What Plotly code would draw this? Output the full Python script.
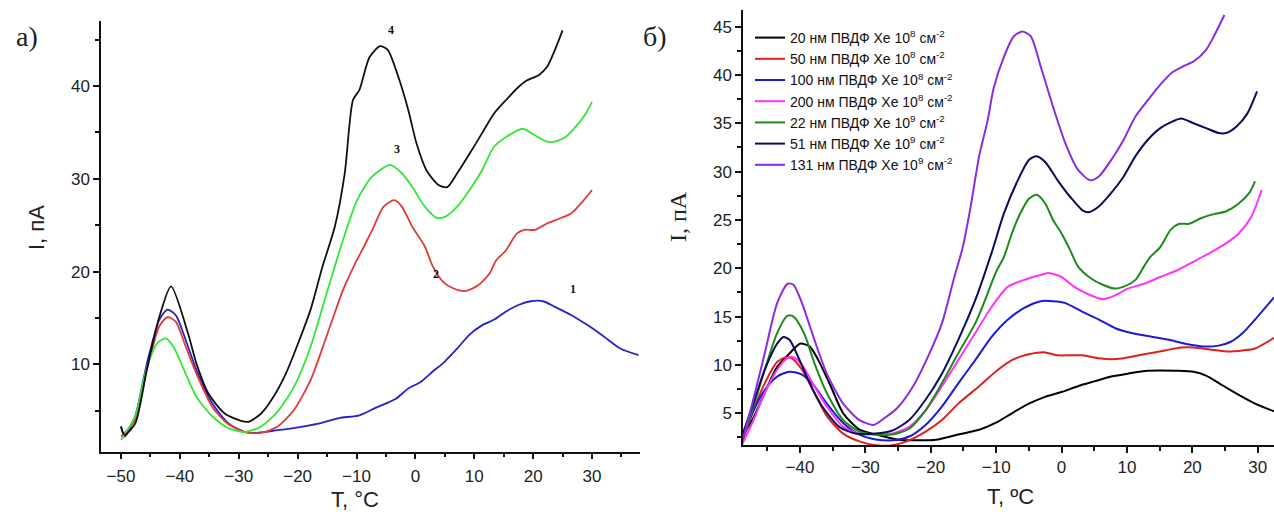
import plotly.graph_objects as go

# ---------------- Panel a) ----------------
a_labels = ["1", "2", "3", "4"]
a_colors = ["#2323c8", "#e03a3a", "#33e633", "#111111"]

a1_T = [-50, -49.4, -47.6, -45.6, -43.5, -42.1, -40.7, -39.0, -37.2, -34.5, -31.7, -28.9, -27.5, -23.4, -19.9, -16.5, -13.0, -9.5, -6.8, -3.3, -1.2, 0.9, 2.9, 5.0, 7.1, 9.2, 11.3, 13.3, 15.4, 17.5, 19.6, 21.7, 23.7, 26.5, 29.3, 32.0, 34.8, 37.9]
a1_I = [3.3, 2.2, 4.4, 10.1, 14.8, 15.9, 15.3, 12.6, 9.4, 5.8, 3.6, 2.7, 2.6, 2.9, 3.2, 3.6, 4.2, 4.5, 5.3, 6.3, 7.4, 8.1, 9.2, 10.3, 11.7, 13.2, 14.2, 14.8, 15.7, 16.4, 16.8, 16.8, 16.2, 15.3, 14.2, 13.0, 11.7, 11.0]

a2_T = [-50, -47.6, -45.6, -43.5, -42.1, -40.7, -39.0, -37.2, -34.5, -31.7, -28.9, -26.2, -23.4, -20.6, -17.8, -15.1, -12.3, -10.2, -8.5, -7.1, -5.4, -3.6, -2.3, -0.5, 1.6, 3.0, 4.7, 6.4, 8.5, 10.6, 12.6, 13.7, 15.4, 17.2, 18.5, 20.3, 22.4, 24.4, 26.5, 28.6, 30.0]
a2_I = [2.2, 4.0, 9.4, 14.1, 15.1, 14.6, 11.9, 9.0, 5.4, 3.5, 2.7, 2.6, 3.3, 5.1, 8.3, 13.0, 18.0, 20.9, 23.0, 24.8, 27.0, 27.7, 27.0, 24.8, 22.7, 20.5, 18.9, 18.2, 17.9, 18.5, 19.8, 21.2, 22.3, 24.1, 24.5, 24.5, 25.2, 25.7, 26.3, 27.7, 28.8]

a3_T = [-50, -47.6, -45.6, -43.8, -42.4, -41.1, -39.3, -37.2, -34.5, -31.7, -28.9, -26.2, -23.4, -20.6, -17.8, -15.1, -12.3, -9.9, -7.4, -4.3, -2.3, -0.5, 1.6, 3.6, 5.0, 7.1, 9.2, 11.3, 13.3, 15.4, 18.2, 20.3, 22.4, 23.7, 25.5, 27.2, 28.9, 30.0]
a3_I = [1.85, 4.4, 9.7, 12.3, 12.8, 11.9, 9.4, 6.5, 4.4, 3.1, 2.7, 3.3, 4.9, 7.6, 11.9, 17.6, 23.4, 27.7, 30.2, 31.5, 30.6, 29.1, 27.0, 25.8, 25.9, 27.0, 28.8, 30.9, 33.4, 34.5, 35.4, 34.7, 34.0, 34.0, 34.5, 35.6, 37.0, 38.3]

a4_T = [-50, -49.4, -47.6, -45.6, -43.5, -41.5, -38.6, -37.2, -35.2, -32.4, -29.6, -28.4, -26.2, -24.1, -22.0, -19.9, -17.8, -15.8, -13.7, -12.0, -10.6, -9.5, -7.8, -6.0, -4.7, -2.9, -1.2, 0.2, 1.9, 4.0, 5.4, 7.1, 9.2, 11.3, 13.3, 15.4, 17.5, 18.9, 21.0, 22.4, 23.7, 25.0]
a4_I = [3.3, 2.4, 3.6, 9.5, 15.1, 18.4, 13.3, 10.1, 6.9, 4.7, 3.9, 3.8, 4.7, 6.5, 9.0, 12.3, 15.9, 20.5, 24.8, 30.6, 38.5, 39.6, 43.1, 44.3, 43.9, 41.0, 37.4, 33.8, 30.9, 29.3, 29.1, 30.6, 32.7, 34.9, 37.0, 38.5, 39.9, 40.6, 41.2, 42.1, 43.9, 46.0]

a_T = [a1_T, a2_T, a3_T, a4_T]
a_I = [a1_I, a2_I, a3_I, a4_I]
a_label_T = [26.7, 3.5, -3.1, -4.2]
a_label_I = [18.1, 19.7, 33.2, 46.1]

# ---------------- Panel б) ----------------
b_names = [
    "20 нм ПВДФ Xe 10<sup>8</sup> см<sup>-2</sup>",
    "50 нм ПВДФ Xe 10<sup>8</sup> см<sup>-2</sup>",
    "100 нм ПВДФ Xe 10<sup>8</sup> см<sup>-2</sup>",
    "200 нм ПВДФ Xe 10<sup>8</sup> см<sup>-2</sup>",
    "22 нм ПВДФ Xe 10<sup>9</sup> см<sup>-2</sup>",
    "51 нм ПВДФ Xe 10<sup>9</sup> см<sup>-2</sup>",
    "131 нм ПВДФ Xe 10<sup>9</sup> см<sup>-2</sup>",
]
b_colors = ["#000000", "#e02020", "#1a1ad8", "#ff33ff", "#1e8a1e", "#0b0b5e", "#8a2be2"]

b1_T = [-48.9, -47.3, -45.4, -43.5, -41.6, -40.0, -38.5, -37.2, -35.3, -33.4, -30.9, -28.4, -25.2, -22.1, -18.9, -15.8, -12.6, -10.1, -7.6, -5.0, -2.5, 0.0, 2.5, 5.0, 7.6, 10.1, 13.2, 17.7, 20.2, 22.1, 24.6, 27.1, 29.6, 32.5]
b1_I = [2.6, 4.3, 7.1, 9.8, 11.2, 12.2, 11.9, 10.5, 7.8, 5.0, 3.3, 2.8, 2.3, 2.2, 2.3, 2.8, 3.3, 4.0, 5.0, 6.0, 6.7, 7.2, 7.8, 8.3, 8.8, 9.1, 9.4, 9.4, 9.3, 8.9, 7.9, 6.9, 6.0, 5.2]

b2_T = [-48.9, -47.3, -45.4, -43.5, -42.2, -41.3, -39.7, -37.8, -35.9, -33.4, -30.9, -28.4, -25.9, -23.3, -20.8, -18.3, -15.8, -12.6, -10.1, -7.6, -5.0, -2.5, -0.6, 1.3, 3.2, 5.7, 7.6, 9.5, 12.6, 15.8, 18.3, 20.2, 22.7, 25.2, 27.7, 29.6, 32.5]
b2_I = [1.9, 5.0, 8.1, 10.3, 10.8, 10.7, 9.5, 7.1, 4.7, 2.9, 2.1, 1.7, 1.7, 2.2, 3.1, 4.3, 6.0, 7.8, 9.3, 10.5, 11.1, 11.3, 11.0, 11.0, 11.0, 10.7, 10.6, 10.7, 11.1, 11.5, 11.8, 11.8, 11.6, 11.4, 11.5, 11.7, 12.8]

b3_T = [-48.9, -47.3, -45.4, -43.5, -41.6, -39.7, -37.8, -35.9, -33.4, -30.9, -28.4, -25.9, -23.3, -20.8, -18.3, -15.8, -13.2, -10.7, -8.2, -5.7, -3.2, -1.3, 0.6, 3.2, 5.7, 8.2, 10.7, 13.9, 16.4, 18.9, 22.1, 24.0, 25.9, 27.7, 29.6, 32.5]
b3_I = [2.2, 5.0, 7.4, 8.8, 9.3, 9.0, 7.8, 6.0, 4.0, 2.8, 2.3, 2.2, 2.6, 3.8, 5.7, 8.1, 10.5, 12.9, 14.7, 15.9, 16.6, 16.6, 16.4, 15.5, 14.7, 13.8, 13.3, 12.9, 12.6, 12.2, 11.9, 12.0, 12.4, 13.3, 14.7, 17.0]

b4_T = [-48.9, -47.3, -45.4, -43.5, -41.9, -41.0, -39.7, -37.8, -35.9, -33.4, -30.9, -28.4, -25.9, -23.3, -20.8, -18.3, -15.8, -13.2, -10.7, -8.2, -5.7, -3.2, -1.9, 0.0, 1.9, 3.8, 6.3, 8.2, 10.1, 12.6, 15.1, 17.7, 20.2, 22.7, 25.2, 27.1, 29.0, 30.6]
b4_I = [1.7, 4.0, 7.1, 9.5, 10.7, 10.8, 10.0, 7.8, 5.7, 3.6, 2.9, 2.8, 2.9, 3.6, 5.3, 7.8, 10.5, 13.3, 16.0, 18.1, 18.8, 19.3, 19.5, 19.1, 18.1, 17.4, 16.8, 17.2, 17.9, 18.4, 19.1, 19.8, 20.7, 21.6, 22.6, 23.6, 25.3, 28.1]

b5_T = [-48.9, -47.3, -45.4, -43.5, -41.9, -41.0, -39.4, -37.8, -35.9, -33.4, -30.9, -28.4, -25.9, -23.3, -20.8, -18.3, -15.8, -13.2, -11.3, -10.1, -8.8, -7.6, -6.3, -5.0, -3.8, -2.5, -1.3, 0.0, 1.3, 2.5, 4.4, 6.3, 8.2, 9.5, 11.3, 12.6, 13.6, 15.1, 16.7, 18.0, 19.5, 21.4, 23.3, 25.2, 27.1, 28.7, 29.6]
b5_I = [2.2, 5.3, 9.5, 13.3, 15.1, 15.0, 13.3, 10.2, 7.1, 4.3, 3.1, 2.8, 2.8, 3.4, 5.3, 8.1, 11.2, 14.3, 17.4, 19.5, 21.2, 23.6, 25.7, 27.2, 27.6, 26.7, 25.0, 23.6, 21.9, 20.2, 19.0, 18.3, 17.9, 18.1, 18.8, 20.2, 21.2, 22.2, 24.0, 24.6, 24.6, 25.2, 25.6, 25.9, 26.7, 27.8, 29.0]

b6_T = [-48.9, -47.3, -45.4, -43.5, -42.5, -41.6, -40.4, -38.5, -36.6, -34.0, -31.5, -28.4, -25.9, -23.3, -20.8, -18.3, -15.8, -13.2, -10.7, -8.8, -6.9, -5.0, -3.8, -2.5, -0.6, 1.3, 3.2, 4.1, 5.7, 7.6, 9.5, 11.3, 13.2, 15.1, 17.0, 18.3, 20.2, 22.1, 24.0, 25.2, 26.8, 28.4, 29.9]
b6_I = [2.6, 5.7, 9.5, 12.2, 12.9, 12.6, 11.0, 8.1, 5.7, 3.6, 2.9, 2.9, 3.2, 4.3, 6.4, 9.1, 12.6, 16.7, 21.6, 25.7, 28.8, 31.2, 31.6, 31.0, 29.1, 27.4, 26.0, 25.8, 26.4, 27.8, 29.5, 31.6, 33.3, 34.5, 35.2, 35.5, 35.0, 34.5, 34.0, 34.0, 34.7, 36.0, 38.3]

b7_T = [-48.9, -47.3, -45.4, -43.5, -41.9, -41.0, -39.7, -37.8, -35.9, -33.4, -30.9, -28.7, -27.1, -25.2, -22.7, -20.2, -18.3, -16.4, -15.1, -13.9, -12.6, -11.3, -10.4, -8.8, -7.3, -6.0, -4.7, -3.2, -1.3, 0.6, 2.5, 4.4, 5.7, 7.6, 9.5, 11.3, 13.2, 15.1, 17.0, 18.6, 20.2, 22.1, 23.3, 24.9]
b7_I = [1.9, 6.0, 11.2, 16.4, 18.4, 18.3, 16.4, 12.6, 9.1, 6.0, 4.3, 3.8, 4.5, 5.5, 7.8, 11.2, 14.3, 19.1, 22.2, 26.4, 31.6, 35.3, 38.6, 41.9, 44.0, 44.5, 44.0, 40.9, 36.7, 32.9, 30.2, 29.1, 29.5, 31.2, 33.3, 35.7, 37.4, 39.0, 40.3, 40.9, 41.4, 42.6, 44.0, 46.2]

b_T = [b1_T, b2_T, b3_T, b4_T, b5_T, b6_T, b7_T]
b_I = [b1_I, b2_I, b3_I, b4_I, b5_I, b6_I, b7_I]

W, H = 1274, 516

fig = go.Figure()
for T, I, c in zip(a_T, a_I, a_colors):
    fig.add_trace(go.Scatter(x=T, y=I, mode="lines", line=dict(color=c, width=1.8, shape="spline", smoothing=0.7),
                             xaxis="x", yaxis="y", showlegend=False, hoverinfo="skip"))
for T, I, c, n in zip(b_T, b_I, b_colors, b_names):
    fig.add_trace(go.Scatter(x=T, y=I, mode="lines", name=n, line=dict(color=c, width=2, shape="spline", smoothing=0.7),
                             xaxis="x2", yaxis="y2", showlegend=True, hoverinfo="skip"))

tickfont = dict(family="Liberation Sans, Arial, sans-serif", size=17, color="#222")
ax_common = dict(showline=True, linecolor="#111", linewidth=1.5, ticks="outside", tickcolor="#111",
                 tickwidth=1.5, ticklen=6, showgrid=False, zeroline=False, tickfont=tickfont)
minor5 = dict(ticks="outside", ticklen=4, dtick=5, tick0=0, tickcolor="#111", tickwidth=1.5)

fig.update_layout(
    width=W, height=H,
    margin=dict(l=0, r=0, t=0, b=0),
    paper_bgcolor="white", plot_bgcolor="white",
    xaxis=dict(domain=[101 / W, 640 / W], range=[-53.4, 38.15], dtick=10, tick0=0, minor=minor5,
               anchor="y", ticklabelstandoff=2, **ax_common),
    yaxis=dict(domain=[1 - 451.5 / H, 1 - 20.7 / H], range=[0.6, 47.05], dtick=10, tick0=0, minor=minor5,
               anchor="x", **ax_common),
    xaxis2=dict(domain=[743 / W, 1.0], range=[-48.72, 32.49], dtick=10, tick0=0, minor=minor5,
                anchor="y2", **ax_common),
    yaxis2=dict(domain=[1 - 445 / H, 1 - 9.7 / H], range=[1.72, 46.75], dtick=5, tick0=0,
                minor=dict(ticks="outside", ticklen=4, dtick=2.5, tick0=0, tickcolor="#111", tickwidth=1.5),
                anchor="x2", **ax_common),
    legend=dict(x=750 / W, y=1 - 22 / H, xanchor="left", yanchor="top", bgcolor="rgba(0,0,0,0)",
                font=dict(family="Liberation Sans, Arial, sans-serif", size=14, color="#111"),
                itemwidth=30, tracegroupgap=0),
)

annots = []
for lbl, tx, ty in zip(a_labels, a_label_T, a_label_I):
    annots.append(dict(x=tx, y=ty, xref="x", yref="y", text="<b>%s</b>" % lbl, showarrow=False,
                       xanchor="center", yanchor="middle",
                       font=dict(family="Liberation Serif, Times New Roman, serif", size=12, color="#111")))
# axis titles and panel labels
def txt(x, y, s, fam, size, angle=0):
    return dict(x=x / W, y=1 - y / H, xref="paper", yref="paper", text=s, showarrow=False,
                xanchor="center", yanchor="middle", textangle=angle,
                font=dict(family=fam, size=size, color="#222"))

sans = "Liberation Sans, Arial, sans-serif"
serif = "Liberation Serif, Times New Roman, serif"
annots += [
    txt(355, 499, "T, °C", sans, 22),
    txt(36, 228, "I, пА", sans, 22, -90),
    txt(1010, 496, "T, ºC", sans, 22),
    txt(678, 217, "I, пА", serif, 24, -90),
    txt(27, 36, "а)", serif, 28),
    txt(655, 36, "б)", serif, 28),
]
fig.update_layout(annotations=annots)

fig.write_html("out.html")
